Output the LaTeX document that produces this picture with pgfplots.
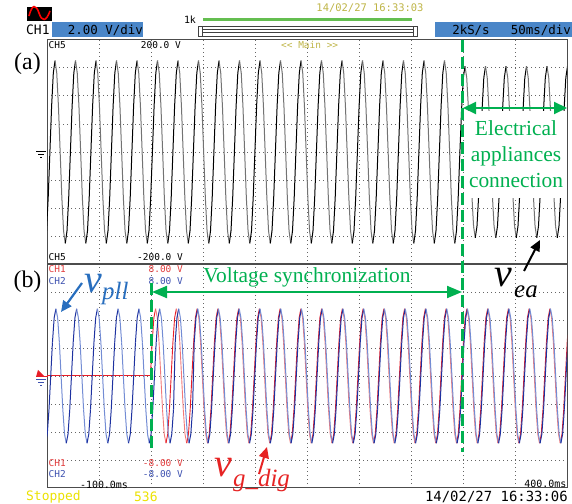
\documentclass[border=0pt]{standalone}
\usepackage{pgfplots}
\pgfplotsset{compat=1.18}
\usepackage{pgfplotstable}
\usepackage{fontspec}
\setmainfont{Liberation Serif}
\newfontfamily\scopefont{DejaVu Sans Mono}
\usetikzlibrary{arrows.meta}
\definecolor{sgreen}{RGB}{0,176,80}
\definecolor{hdrblue}{RGB}{74,134,200}
\definecolor{dblue}{RGB}{30,50,160}
\definecolor{lblue}{RGB}{115,140,212}
\definecolor{dred}{RGB}{232,30,40}
\definecolor{lred}{RGB}{242,120,120}
\definecolor{olivetxt}{RGB}{190,180,70}
\definecolor{yeltxt}{RGB}{235,225,0}
\definecolor{barGreen}{RGB}{100,190,80}
\definecolor{labblue}{RGB}{40,110,190}
\definecolor{labred}{RGB}{230,35,35}
\definecolor{chred}{RGB}{225,60,60}
\definecolor{chblue}{RGB}{60,80,175}
\pgfplotsset{
 colormap={graymap}{color=(black!55) color=(black)},
 colormap={bluemap}{color=(lblue) color=(dblue)},
 colormap={redmap}{color=(lred) color=(dred)},
 scopeax/.style={scale only axis, width=520bp, ymin=-4, ymax=4,
  ytick={-3,-2,-1,0,1,2,3}, xticklabels={}, yticklabels={},
  major tick length=0pt, grid=major,
  major grid style={black!60, line width=0.6bp, dash pattern=on 0.6bp off 3.4bp},
  axis line style={black!70, line width=1bp},
  point meta min=0, point meta max=1}
}
% upper panel (a): x = sample index (12 per period), y in divisions
\pgfplotstableread[row sep=\\]{x y c\\
-3 -3.25 1\\-2 -2.81 1\\-1 -1.63 1\\
0 0 1\\1 1.63 1\\2 2.81 1\\3 3.25 0\\4 2.81 0\\5 1.63 0\\6 0 0\\7 -1.63 0\\8 -2.81 0\\9 -3.25 1\\10 -2.81 1\\11 -1.63 1\\
12 0 1\\13 1.63 1\\14 2.81 1\\15 3.25 0\\16 2.81 0\\17 1.63 0\\18 0 0\\19 -1.63 0\\20 -2.81 0\\21 -3.25 1\\22 -2.81 1\\23 -1.63 1\\
24 0 1\\25 1.63 1\\26 2.81 1\\27 3.25 0\\28 2.81 0\\29 1.63 0\\30 0 0\\31 -1.63 0\\32 -2.81 0\\33 -3.25 1\\34 -2.81 1\\35 -1.63 1\\
36 0 1\\37 1.63 1\\38 2.81 1\\39 3.25 0\\40 2.81 0\\41 1.63 0\\42 0 0\\43 -1.63 0\\44 -2.81 0\\45 -3.25 1\\46 -2.81 1\\47 -1.63 1\\
48 0 1\\49 1.63 1\\50 2.81 1\\51 3.25 0\\52 2.81 0\\53 1.63 0\\54 0 0\\55 -1.63 0\\56 -2.81 0\\57 -3.25 1\\58 -2.81 1\\59 -1.63 1\\
60 0 1\\61 1.63 1\\62 2.81 1\\63 3.25 0\\64 2.81 0\\65 1.63 0\\66 0 0\\67 -1.63 0\\68 -2.81 0\\69 -3.25 1\\70 -2.81 1\\71 -1.63 1\\
72 0 1\\73 1.63 1\\74 2.81 1\\75 3.25 0\\76 2.81 0\\77 1.63 0\\78 0 0\\79 -1.63 0\\80 -2.81 0\\81 -3.25 1\\82 -2.81 1\\83 -1.63 1\\
84 0 1\\85 1.63 1\\86 2.81 1\\87 3.25 0\\88 2.81 0\\89 1.63 0\\90 0 0\\91 -1.63 0\\92 -2.81 0\\93 -3.25 1\\94 -2.81 1\\95 -1.63 1\\
96 0 1\\97 1.63 1\\98 2.81 1\\99 3.25 0\\100 2.81 0\\101 1.63 0\\102 0 0\\103 -1.63 0\\104 -2.81 0\\105 -3.25 1\\106 -2.81 1\\107 -1.63 1\\
108 0 1\\109 1.63 1\\110 2.81 1\\111 3.25 0\\112 2.81 0\\113 1.63 0\\114 0 0\\115 -1.63 0\\116 -2.81 0\\117 -3.25 1\\118 -2.81 1\\119 -1.63 1\\
120 0 1\\121 1.63 1\\122 2.81 1\\123 3.25 0\\124 2.81 0\\125 1.63 0\\126 0 0\\127 -1.63 0\\128 -2.81 0\\129 -3.25 1\\130 -2.81 1\\131 -1.63 1\\
132 0 1\\133 1.63 1\\134 2.81 1\\135 3.25 0\\136 2.81 0\\137 1.63 0\\138 0 0\\139 -1.63 0\\140 -2.81 0\\141 -3.25 1\\142 -2.81 1\\143 -1.63 1\\
144 0 1\\145 1.63 1\\146 2.81 1\\147 3.25 0\\148 2.81 0\\149 1.63 0\\150 0 0\\151 -1.63 0\\152 -2.81 0\\153 -3.25 1\\154 -2.81 1\\155 -1.63 1\\
156 0 1\\157 1.63 1\\158 2.81 1\\159 3.25 0\\160 2.81 0\\161 1.63 0\\162 0 0\\163 -1.63 0\\164 -2.81 0\\165 -3.25 1\\166 -2.81 1\\167 -1.63 1\\
168 0 1\\169 1.63 1\\170 2.81 1\\171 3.25 0\\172 2.81 0\\173 1.63 0\\174 0 0\\175 -1.63 0\\176 -2.81 0\\177 -3.25 1\\178 -2.81 1\\179 -1.63 1\\
180 0 1\\181 1.63 1\\182 2.81 1\\183 3.25 0\\184 2.81 0\\185 1.63 0\\186 0 0\\187 -1.63 0\\188 -2.81 0\\189 -3.25 1\\190 -2.81 1\\191 -1.63 1\\
192 0 1\\193 1.63 1\\194 2.81 1\\195 3.25 0\\196 2.81 0\\197 1.63 0\\198 0 0\\199 -1.63 0\\200 -2.81 0\\201 -3.25 1\\202 -2.81 1\\203 -1.63 1\\
204 0 1\\205 1.63 1\\206 2.81 1\\207 3.25 0\\208 2.81 0\\209 1.63 0\\210 0 0\\211 -1.63 0\\212 -2.81 0\\213 -3.25 1\\214 -2.81 1\\215 -1.63 1\\
216 0 1\\217 1.63 1\\218 2.81 1\\219 3.25 0\\220 2.81 0\\221 1.63 0\\222 0 0\\223 -1.63 0\\224 -2.81 0\\225 -3.25 1\\226 -2.81 1\\227 -1.63 1\\
228 0 1\\229 1.63 1\\230 2.81 1\\231 3.25 0\\232 2.81 0\\233 1.63 0\\234 0 0\\235 -1.63 0\\236 -2.81 0\\237 -3.25 1\\238 -2.81 1\\239 -1.63 1\\
240 0 1\\241 1.53 1\\242 2.64 1\\243 3.05 0\\244 2.64 0\\245 1.53 0\\246 0 0\\247 -1.53 0\\248 -2.64 0\\249 -3.05 1\\250 -2.64 1\\251 -1.53 1\\
252 0 1\\253 1.53 1\\254 2.64 1\\255 3.05 0\\256 2.64 0\\257 1.53 0\\258 0 0\\259 -1.53 0\\260 -2.64 0\\261 -3.05 1\\262 -2.64 1\\263 -1.53 1\\
264 0 1\\265 1.53 1\\266 2.64 1\\267 3.05 0\\268 2.64 0\\269 1.53 0\\270 0 0\\271 -1.53 0\\272 -2.64 0\\273 -3.05 1\\274 -2.64 1\\275 -1.53 1\\
276 0 1\\277 1.53 1\\278 2.64 1\\279 3.05 0\\280 2.64 0\\281 1.53 0\\282 0 0\\283 -1.53 0\\284 -2.64 0\\285 -3.05 1\\286 -2.64 1\\287 -1.53 1\\
288 0 1\\289 1.53 1\\290 2.64 1\\291 3.05 0\\292 2.64 0\\293 1.53 0\\294 0 0\\295 -1.53 0\\296 -2.64 0\\297 -3.05 1\\298 -2.64 1\\299 -1.53 1\\
300 0 1\\301 1.53 1\\302 2.64 1\\303 3.05 0\\304 2.64 0\\305 1.53 0\\
}\tabA
% lower panel (b): red v_g_dig from t=0
\pgfplotstableread[row sep=\\]{x y c\\
0 0 1\\1 1.2 1\\2 2.08 1\\3 2.4 0\\4 2.08 0\\5 1.2 0\\6 0 0\\7 -1.2 0\\8 -2.08 0\\9 -2.4 1\\10 -2.08 1\\11 -1.2 1\\
12 0 1\\13 1.2 1\\14 2.08 1\\15 2.4 0\\16 2.08 0\\17 1.2 0\\18 0 0\\19 -1.2 0\\20 -2.08 0\\21 -2.4 1\\22 -2.08 1\\23 -1.2 1\\
24 0 1\\25 1.2 1\\26 2.08 1\\27 2.4 0\\28 2.08 0\\29 1.2 0\\30 0 0\\31 -1.2 0\\32 -2.08 0\\33 -2.4 1\\34 -2.08 1\\35 -1.2 1\\
36 0 1\\37 1.2 1\\38 2.08 1\\39 2.4 0\\40 2.08 0\\41 1.2 0\\42 0 0\\43 -1.2 0\\44 -2.08 0\\45 -2.4 1\\46 -2.08 1\\47 -1.2 1\\
48 0 1\\49 1.2 1\\50 2.08 1\\51 2.4 0\\52 2.08 0\\53 1.2 0\\54 0 0\\55 -1.2 0\\56 -2.08 0\\57 -2.4 1\\58 -2.08 1\\59 -1.2 1\\
60 0 1\\61 1.2 1\\62 2.08 1\\63 2.4 0\\64 2.08 0\\65 1.2 0\\66 0 0\\67 -1.2 0\\68 -2.08 0\\69 -2.4 1\\70 -2.08 1\\71 -1.2 1\\
72 0 1\\73 1.2 1\\74 2.08 1\\75 2.4 0\\76 2.08 0\\77 1.2 0\\78 0 0\\79 -1.2 0\\80 -2.08 0\\81 -2.4 1\\82 -2.08 1\\83 -1.2 1\\
84 0 1\\85 1.2 1\\86 2.08 1\\87 2.4 0\\88 2.08 0\\89 1.2 0\\90 0 0\\91 -1.2 0\\92 -2.08 0\\93 -2.4 1\\94 -2.08 1\\95 -1.2 1\\
96 0 1\\97 1.2 1\\98 2.08 1\\99 2.4 0\\100 2.08 0\\101 1.2 0\\102 0 0\\103 -1.2 0\\104 -2.08 0\\105 -2.4 1\\106 -2.08 1\\107 -1.2 1\\
108 0 1\\109 1.2 1\\110 2.08 1\\111 2.4 0\\112 2.08 0\\113 1.2 0\\114 0 0\\115 -1.2 0\\116 -2.08 0\\117 -2.4 1\\118 -2.08 1\\119 -1.2 1\\
120 0 1\\121 1.2 1\\122 2.08 1\\123 2.4 0\\124 2.08 0\\125 1.2 0\\126 0 0\\127 -1.2 0\\128 -2.08 0\\129 -2.4 1\\130 -2.08 1\\131 -1.2 1\\
132 0 1\\133 1.2 1\\134 2.08 1\\135 2.4 0\\136 2.08 0\\137 1.2 0\\138 0 0\\139 -1.2 0\\140 -2.08 0\\141 -2.4 1\\142 -2.08 1\\143 -1.2 1\\
144 0 1\\145 1.2 1\\146 2.08 1\\147 2.4 0\\148 2.08 0\\149 1.2 0\\150 0 0\\151 -1.2 0\\152 -2.08 0\\153 -2.4 1\\154 -2.08 1\\155 -1.2 1\\
156 0 1\\157 1.2 1\\158 2.08 1\\159 2.4 0\\160 2.08 0\\161 1.2 0\\162 0 0\\163 -1.2 0\\164 -2.08 0\\165 -2.4 1\\166 -2.08 1\\167 -1.2 1\\
168 0 1\\169 1.2 1\\170 2.08 1\\171 2.4 0\\172 2.08 0\\173 1.2 0\\174 0 0\\175 -1.2 0\\176 -2.08 0\\177 -2.4 1\\178 -2.08 1\\179 -1.2 1\\
180 0 1\\181 1.2 1\\182 2.08 1\\183 2.4 0\\184 2.08 0\\185 1.2 0\\186 0 0\\187 -1.2 0\\188 -2.08 0\\189 -2.4 1\\190 -2.08 1\\191 -1.2 1\\
192 0 1\\193 1.2 1\\194 2.08 1\\195 2.4 0\\196 2.08 0\\197 1.2 0\\198 0 0\\199 -1.2 0\\200 -2.08 0\\201 -2.4 1\\202 -2.08 1\\203 -1.2 1\\
204 0 1\\205 1.2 1\\206 2.08 1\\207 2.4 0\\208 2.08 0\\209 1.2 0\\210 0 0\\211 -1.2 0\\212 -2.08 0\\213 -2.4 1\\214 -2.08 1\\215 -1.2 1\\
216 0 1\\217 1.2 1\\218 2.08 1\\219 2.4 0\\220 2.08 0\\221 1.2 0\\222 0 0\\223 -1.2 0\\224 -2.08 0\\225 -2.4 1\\226 -2.08 1\\227 -1.2 1\\
228 0 1\\229 1.2 1\\230 2.08 1\\231 2.4 0\\232 2.08 0\\233 1.2 0\\234 0 0\\235 -1.2 0\\236 -2.08 0\\237 -2.4 1\\238 -2.08 1\\239 -1.2 1\\
240 0 1\\241 1.2 1\\242 2.08 1\\243 2.4 0\\
}\tabR
% lower panel (b): blue v_pll before it locks onto the red signal
\pgfplotstableread[row sep=\\]{x y c\\
-62 -2.08 0\\-61 -2.4 1\\-60 -2.08 1\\-59 -1.2 1\\
-58 0 1\\-57 1.2 1\\-56 2.08 1\\-55 2.4 0\\-54 2.08 0\\-53 1.2 0\\-52 0 0\\-51 -1.2 0\\-50 -2.08 0\\-49 -2.4 1\\-48 -2.08 1\\-47 -1.2 1\\
-46 0 1\\-45 1.2 1\\-44 2.08 1\\-43 2.4 0\\-42 2.08 0\\-41 1.2 0\\-40 0 0\\-39 -1.2 0\\-38 -2.08 0\\-37 -2.4 1\\-36 -2.08 1\\-35 -1.2 1\\
-34 0 1\\-33 1.2 1\\-32 2.08 1\\-31 2.4 0\\-30 2.08 0\\-29 1.2 0\\-28 0 0\\-27 -1.2 0\\-26 -2.08 0\\-25 -2.4 1\\-24 -2.08 1\\-23 -1.2 1\\
-22 0 1\\-21 1.2 1\\-20 2.08 1\\-19 2.4 0\\-18 2.08 0\\-17 1.2 0\\-16 0 0\\-15 -1.2 0\\-14 -2.08 0\\-13 -2.4 1\\-12 -2.08 1\\-11 -1.2 1\\
-10 0 1\\-9 1.2 1\\-8 2.08 1\\-7 2.4 0\\-6 2.08 0\\-5 1.2 0\\-4 0 0\\-3 -1.2 0\\-2 -2.08 0\\-1 -2.4 1\\0 -2.08 1\\1 -1.2 1\\
2 0 1\\3 1.2 1\\4 2.08 1\\5 2.4 0\\6 2.08 0\\7 1.2 0\\8 0 0\\9 -1.2 0\\10 -2.08 0\\11 -2.4 1\\12 -2.08 1\\13 -1.2 1\\
14 1.2 1\\15 2.08 1\\16 2.4 0\\17 2.08 0\\18 1.2 0\\19 0 0\\20 -1.2 0\\21 -2.08 0\\22 -2.4 1\\23 -2.08 1\\24 -1.2 1\\25 1.2 1\\
}\tabB
\begin{document}
\begin{tikzpicture}
\path[use as bounding box] (0,0) rectangle (572bp,504bp);
% ---- panel (a)
\begin{axis}[scopeax, at={(47bp,464.5bp)}, anchor=north west, height=225bp,
  xmin=-1.7, xmax=302.7,
  xtick={28.74,59.18,89.62,120.06,150.5,180.94,211.38,241.82,272.26}]
\addplot[mesh, colormap name=graymap, shader=flat corner, point meta=explicit, line width=1bp]
  table[x=x, y=y, meta=c] {\tabA};
\end{axis}
% ---- panel (b)
\begin{axis}[scopeax, at={(47bp,240bp)}, anchor=north west, height=224bp,
  xmin=-60.15, xmax=240.55,
  xtick={-30.08,-0.01,30.06,60.13,90.2,120.27,150.34,180.41,210.48}]
\addplot[dred, line width=1bp] coordinates {(-62,0) (0,0)};
\addplot[mesh, colormap name=redmap, shader=flat corner, point meta=explicit, line width=0.9bp, xshift=-0.6bp]
  table[x=x, y=y, meta=c] {\tabR};
\addplot[mesh, colormap name=bluemap, shader=flat corner, point meta=explicit, line width=1bp]
  table[x=x, y=y, meta=c] {\tabB};
\addplot[mesh, colormap name=bluemap, shader=flat corner, point meta=explicit, line width=1bp, restrict x to domain=25:250]
  table[x=x, y=y, meta=c] {\tabR};
\end{axis}
% ---- annotations in pixel coordinates (origin top left)
\begin{scope}[yshift=504bp, x=1bp, y=-1bp]
 % header
 \fill[black] (27,7) rectangle (52,21);
 \draw[red, line width=1.6bp] (29,16) .. controls (32,4) and (36,4) .. (39,13) .. controls (42,22) and (46,22) .. (50,11);
 \node[anchor=west, inner sep=0, font=\scopefont\fontsize{13}{13}\selectfont] at (26,30) {CH1};
 \fill[hdrblue] (52,22.5) rectangle (143,37);
 \node[anchor=east, inner sep=0, font=\scopefont\fontsize{12.5}{12.5}\selectfont] at (143,30) {2.00 V/div};
 \node[inner sep=0, font=\scopefont\fontsize{10}{10}\selectfont] at (190,20) {1k};
 \fill[barGreen] (203,18) rectangle (412,21);
 \draw[black!75, line width=0.6bp] (198.5,26) rectangle (202.5,36.5);
 \draw[black!75, line width=0.6bp] (413,26) rectangle (417,36.5);
 \draw[black!75, line width=0.6bp] (202.5,26)--(413,26) (202.5,29.5)--(413,29.5) (202.5,32.8)--(413,32.8) (202.5,36.3)--(413,36.3);
 \node[inner sep=0, text=olivetxt, font=\scopefont\fontsize{10.5}{10.5}\selectfont] at (370,8.5) {14/02/27 16:33:03};
 \fill[hdrblue] (435,22.5) rectangle (572,37);
 \node[inner sep=0, font=\scopefont\fontsize{12.5}{12.5}\selectfont] at (471,30) {2kS/s};
 \node[anchor=east, inner sep=0, font=\scopefont\fontsize{12.5}{12.5}\selectfont] at (571,30) {50ms/div};
 % panel (a) texts
 \node[anchor=west, inner sep=0, font=\scopefont\fontsize{9.5}{9.5}\selectfont] at (48.5,45) {CH5};
 \node[anchor=east, inner sep=0, font=\scopefont\fontsize{9.5}{9.5}\selectfont] at (181,45) {200.0 V};
 \node[anchor=west, inner sep=0, text=olivetxt, font=\scopefont\fontsize{9.5}{9.5}\selectfont] at (281,45) {<\kern0pt< Main >\kern0pt>};
 \node[anchor=west, inner sep=0, font=\scopefont\fontsize{9.5}{9.5}\selectfont] at (48.5,257.5) {CH5};
 \node[anchor=east, inner sep=0, font=\scopefont\fontsize{9.5}{9.5}\selectfont] at (183,257.5) {-200.0 V};
 % ground markers
 \draw[black, line width=0.8bp] (36,151.5)--(46,151.5) (38,154.5)--(44,154.5) (40,157.5)--(42,157.5);
 \fill[dred] (36,377)--(45,377)--(38,370)--cycle;
 \draw[dred, line width=1bp] (37,377)--(48,377);
 \draw[chblue, line width=0.8bp] (36,379.5)--(46,379.5) (38,382.5)--(44,382.5) (40,385.5)--(42,385.5);
 % panel (b) texts
 \node[anchor=west, inner sep=0, text=chred, font=\scopefont\fontsize{9.5}{9.5}\selectfont] at (48.5,269.5) {CH1};
 \node[anchor=east, inner sep=0, text=chred, font=\scopefont\fontsize{9.5}{9.5}\selectfont] at (183,269.5) {8.00 V};
 \node[anchor=west, inner sep=0, text=chblue, font=\scopefont\fontsize{9.5}{9.5}\selectfont] at (48.5,281.5) {CH2};
 \node[anchor=east, inner sep=0, text=chblue, font=\scopefont\fontsize{9.5}{9.5}\selectfont] at (183,281.5) {8.00 V};
 \node[anchor=west, inner sep=0, text=chred, font=\scopefont\fontsize{9.5}{9.5}\selectfont] at (48.5,463) {CH1};
 \node[anchor=east, inner sep=0, text=chred, font=\scopefont\fontsize{9.5}{9.5}\selectfont] at (183,463) {-8.00 V};
 \node[anchor=west, inner sep=0, text=chblue, font=\scopefont\fontsize{9.5}{9.5}\selectfont] at (48.5,474.5) {CH2};
 \node[anchor=east, inner sep=0, text=chblue, font=\scopefont\fontsize{9.5}{9.5}\selectfont] at (183,474.5) {-8.00 V};
 \node[inner sep=0, font=\scopefont\fontsize{10}{10}\selectfont] at (104,485) {-100.0ms};
 \node[anchor=east, inner sep=0, font=\scopefont\fontsize{10}{10}\selectfont] at (566.5,484) {400.0ms};
 % footer
 \node[anchor=west, inner sep=0, text=yeltxt, font=\scopefont\fontsize{13}{13}\selectfont] at (26,497) {Stopped};
 \node[anchor=west, inner sep=0, text=yeltxt, font=\scopefont\fontsize{13}{13}\selectfont] at (134,497) {536};
 \node[anchor=east, inner sep=0, font=\scopefont\fontsize{14}{14}\selectfont] at (568,497) {14/02/27 16:33:06};
 % green markers
 \draw[sgreen, line width=3bp, dash pattern=on 12bp off 5bp] (462,40)--(462,452);
 \draw[sgreen, line width=3bp, dash pattern=on 12bp off 5bp] (151,283)--(151,452);
 \fill[white] (465,111) rectangle (566,198);
 \draw[sgreen, line width=2bp, {Triangle[length=13bp,width=12bp]}-{Triangle[length=13bp,width=12bp]}] (463,108)--(567,108);
 \node[anchor=base, inner sep=0, text=sgreen, font=\fontsize{21.5}{21.5}\selectfont] at (516,136) {Electrical};
 \node[anchor=base, inner sep=0, text=sgreen, font=\fontsize{21.5}{21.5}\selectfont] at (516,162) {appliances};
 \node[anchor=base, inner sep=0, text=sgreen, font=\fontsize{21.5}{21.5}\selectfont] at (516,188) {connection};
 \draw[sgreen, line width=2bp, {Triangle[length=15bp,width=12bp]}-{Triangle[length=15bp,width=12bp]}] (152,292)--(462,292);
 \node[anchor=base, inner sep=0, text=sgreen, font=\fontsize{21.5}{21.5}\selectfont] at (307,283) {Voltage synchronization};
 % labels
 \node[anchor=base, inner sep=0, font=\fontsize{24}{24}\selectfont] at (27.5,70) {(a)};
 \node[anchor=base, inner sep=0, font=\fontsize{24}{24}\selectfont] at (27.5,288) {(b)};
 \node[anchor=base west, inner sep=0, text=labblue, font=\itshape\fontsize{40}{40}\selectfont] at (84,293) {v};
 \node[anchor=base west, inner sep=0, text=labblue, font=\itshape\fontsize{25}{25}\selectfont] at (102,300) {pll};
 \draw[labblue, line width=2.2bp, -{Triangle[length=11bp,width=10bp]}] (82,283)--(61,312);
 \node[anchor=base west, inner sep=0, text=black, font=\itshape\fontsize{40}{40}\selectfont] at (494,287) {v};
 \node[anchor=base west, inner sep=0, text=black, font=\itshape\fontsize{25}{25}\selectfont] at (514,298) {ea};
 \draw[black, line width=2bp, -{Triangle[length=11bp,width=10bp]}] (524,271)--(540,240);
 \node[anchor=base west, inner sep=0, text=labred, font=\itshape\fontsize{40}{40}\selectfont] at (214,477) {v};
 \node[anchor=base west, inner sep=0, text=labred, font=\itshape\fontsize{25}{25}\selectfont] at (233,487) {g\_dig};
 \draw[labred, line width=2bp, -{Triangle[length=11bp,width=10bp]}] (259,474)--(267,447);
\end{scope}
\end{tikzpicture}
\end{document}
